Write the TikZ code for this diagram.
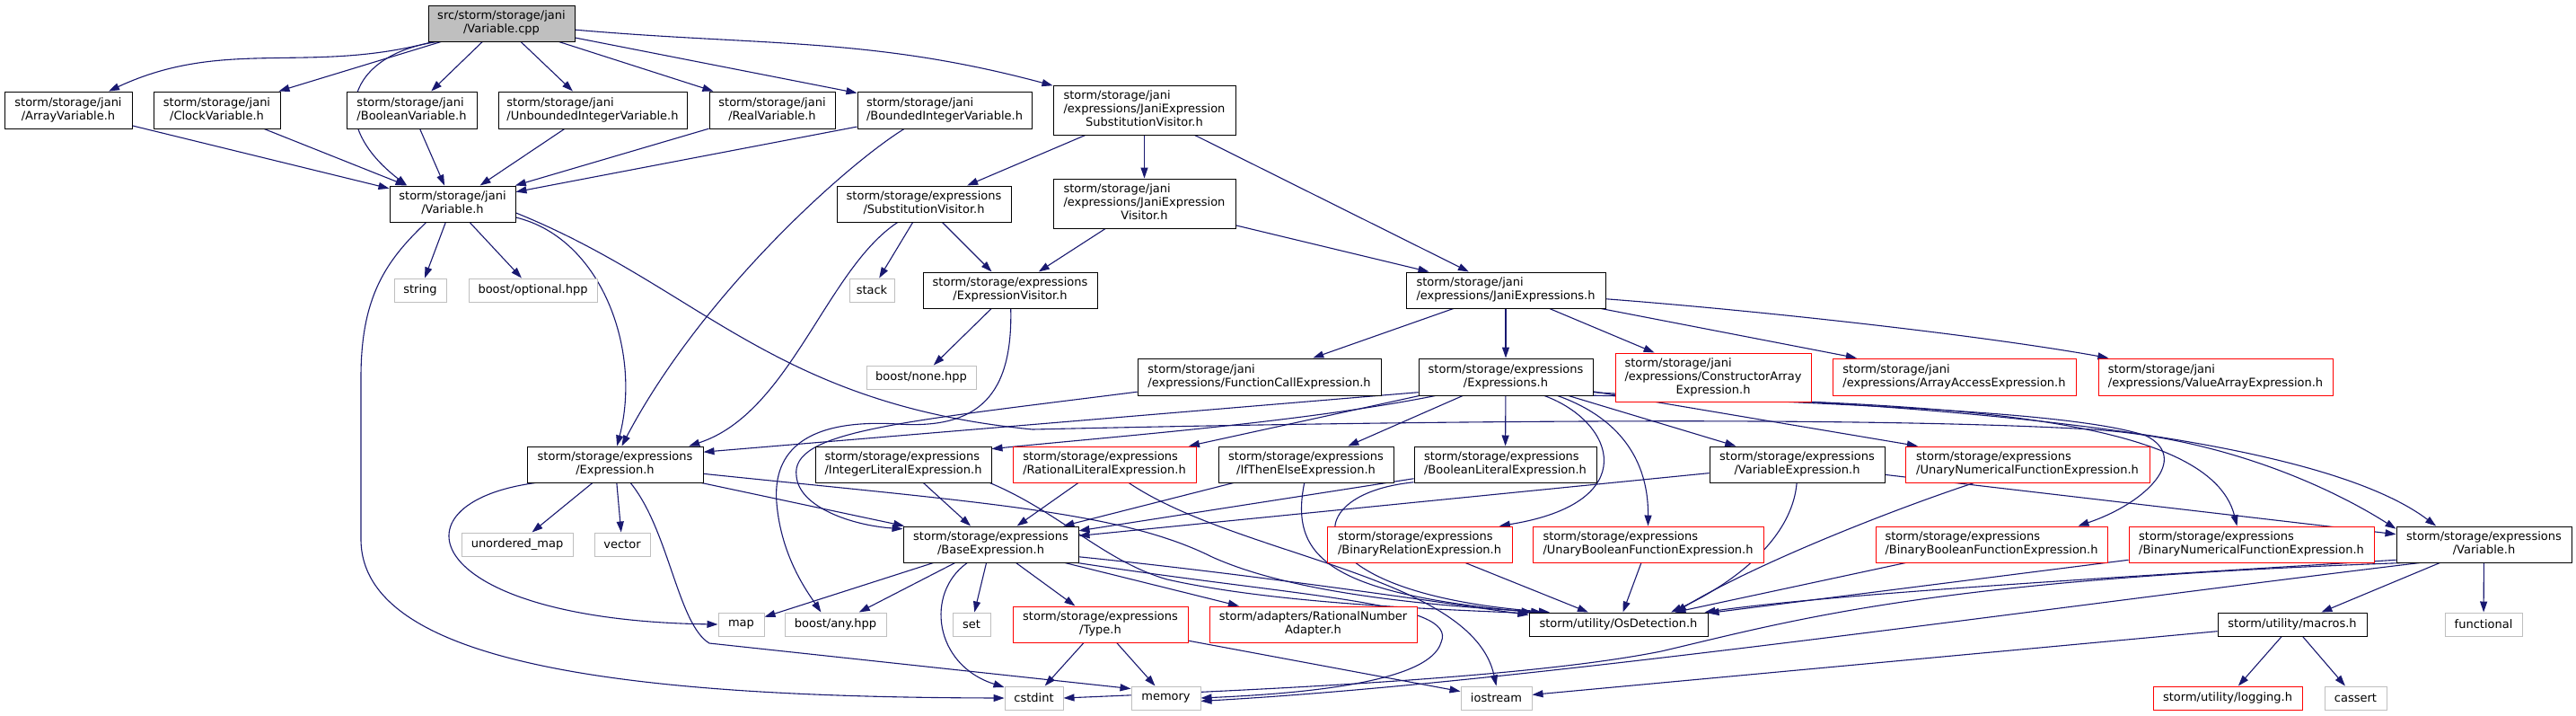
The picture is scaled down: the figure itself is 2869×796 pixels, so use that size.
\documentclass[tikz,border=0pt]{standalone}
\usepackage{fontspec}
\setmainfont{DejaVu Sans}
\usetikzlibrary{arrows.meta,backgrounds}
\definecolor{edgec}{HTML}{191970}
\definecolor{sysgray}{HTML}{BFBFBF}
\definecolor{rootfill}{HTML}{BFBFBF}
\newcommand{\ltwo}[2]{\begin{tabular}{@{}l@{}}#1\\\multicolumn{1}{@{}c@{}}{#2}\end{tabular}}
\newcommand{\lthree}[3]{\begin{tabular}{@{}l@{}}#1\\#2\\\multicolumn{1}{@{}c@{}}{#3}\end{tabular}}
\begin{document}
\begin{tikzpicture}[x=1pt,y=-1pt,
  every node/.style={font=\fontsize{13}{15}\selectfont},
  nbox/.style={draw=black,line width=1pt,fill=white,inner sep=0pt,rectangle},
  sysbox/.style={nbox,draw=sysgray},
  trunc/.style={nbox,draw=red},
  rootbox/.style={nbox,fill=rootfill},
  sz/.style 2 args={minimum width=#1pt,minimum height=#2pt},
  conn/.style={draw=edgec,line width=1.1pt,-{Triangle[length=12pt,width=8pt]}}]
\useasboundingbox (0,0) rectangle (2869,796);
% ---------- nodes ----------
\node[rootbox,sz={163}{40}] (root) at (558.5,26) {\ltwo{src/storm/storage/jani}{/Variable.cpp}};
\node[nbox,sz={142}{41}] (arr) at (76,122.5) {\ltwo{storm/storage/jani}{/ArrayVariable.h}};
\node[nbox,sz={141}{41}] (clk) at (241.5,122.5) {\ltwo{storm/storage/jani}{/ClockVariable.h}};
\node[nbox,sz={145}{41}] (boo) at (458.5,122.5) {\ltwo{storm/storage/jani}{/BooleanVariable.h}};
\node[nbox,sz={210}{41}] (unb) at (660,122.5) {\ltwo{storm/storage/jani}{/UnboundedIntegerVariable.h}};
\node[nbox,sz={140}{41}] (rea) at (860,122.5) {\ltwo{storm/storage/jani}{/RealVariable.h}};
\node[nbox,sz={194}{41}] (bnd) at (1052,122.5) {\ltwo{storm/storage/jani}{/BoundedIntegerVariable.h}};
\node[nbox,sz={203}{55}] (jesv) at (1274.5,122.5) {\lthree{storm/storage/jani}{/expressions/JaniExpression}{SubstitutionVisitor.h}};
\node[nbox,sz={140}{40}] (jvar) at (504,227) {\ltwo{storm/storage/jani}{/Variable.h}};
\node[nbox,sz={194}{40}] (subv) at (1029,227) {\ltwo{storm/storage/expressions}{/SubstitutionVisitor.h}};
\node[nbox,sz={203}{55}] (jev) at (1274.5,226.5) {\lthree{storm/storage/jani}{/expressions/JaniExpression}{Visitor.h}};
\node[sysbox,sz={58}{26}] (string) at (468,323) {string};
\node[sysbox,sz={143}{26}] (bopt) at (593.5,323) {boost/optional.hpp};
\node[sysbox,sz={50}{26}] (stack) at (971,323) {stack};
\node[nbox,sz={194}{40}] (exvis) at (1125,323) {\ltwo{storm/storage/expressions}{/ExpressionVisitor.h}};
\node[nbox,sz={222}{40}] (jexprs) at (1677,323) {\ltwo{storm/storage/jani}{/expressions/JaniExpressions.h}};
\node[sysbox,sz={122}{26}] (bnone) at (1026,420) {boost/none.hpp};
\node[nbox,sz={271}{41}] (fcall) at (1402.5,419.5) {\ltwo{storm/storage/jani}{/expressions/FunctionCallExpression.h}};
\node[nbox,sz={194}{41}] (exprs) at (1677,419.5) {\ltwo{storm/storage/expressions}{/Expressions.h}};
\node[trunc,sz={218}{54}] (cons) at (1908,420) {\lthree{storm/storage/jani}{/expressions/ConstructorArray}{Expression.h}};
\node[trunc,sz={271}{41}] (aacc) at (2176.5,419.5) {\ltwo{storm/storage/jani}{/expressions/ArrayAccessExpression.h}};
\node[trunc,sz={261}{41}] (varr) at (2467.5,419.5) {\ltwo{storm/storage/jani}{/expressions/ValueArrayExpression.h}};
\node[nbox,sz={196}{40}] (expr) at (685,517) {\ltwo{storm/storage/expressions}{/Expression.h}};
\node[nbox,sz={196}{40}] (intl) at (1006,517) {\ltwo{storm/storage/expressions}{/IntegerLiteralExpression.h}};
\node[trunc,sz={204}{40}] (ratl) at (1230,517) {\ltwo{storm/storage/expressions}{/RationalLiteralExpression.h}};
\node[nbox,sz={195}{40}] (ite) at (1454.5,517) {\ltwo{storm/storage/expressions}{/IfThenElseExpression.h}};
\node[nbox,sz={203}{40}] (booll) at (1676.5,517) {\ltwo{storm/storage/expressions}{/BooleanLiteralExpression.h}};
\node[nbox,sz={195}{40}] (varex) at (2001.5,517) {\ltwo{storm/storage/expressions}{/VariableExpression.h}};
\node[trunc,sz={272}{40}] (unum) at (2258,517) {\ltwo{storm/storage/expressions}{/UnaryNumericalFunctionExpression.h}};
\node[sysbox,sz={124}{26}] (umap) at (576,606) {unordered\_map};
\node[sysbox,sz={62}{26}] (vector) at (693,606) {vector};
\node[nbox,sz={195}{40}] (base) at (1103.5,606) {\ltwo{storm/storage/expressions}{/BaseExpression.h}};
\node[trunc,sz={206}{40}] (brel) at (1581,606) {\ltwo{storm/storage/expressions}{/BinaryRelationExpression.h}};
\node[trunc,sz={257}{40}] (ubool) at (1835.5,606) {\ltwo{storm/storage/expressions}{/UnaryBooleanFunctionExpression.h}};
\node[trunc,sz={258}{40}] (bbool) at (2218,606) {\ltwo{storm/storage/expressions}{/BinaryBooleanFunctionExpression.h}};
\node[trunc,sz={273}{40}] (bnum) at (2507.5,606) {\ltwo{storm/storage/expressions}{/BinaryNumericalFunctionExpression.h}};
\node[nbox,sz={195}{40}] (evar) at (2766.5,606) {\ltwo{storm/storage/expressions}{/Variable.h}};
\node[sysbox,sz={51}{26}] (map) at (825.5,695) {map};
\node[sysbox,sz={113}{26}] (bany) at (930.5,695) {boost/any.hpp};
\node[sysbox,sz={42}{26}] (set) at (1082,695) {set};
\node[trunc,sz={195}{40}] (type) at (1225.5,695) {\ltwo{storm/storage/expressions}{/Type.h}};
\node[trunc,sz={231}{40}] (rna) at (1462.5,695) {\ltwo{storm/adapters/RationalNumber}{Adapter.h}};
\node[nbox,sz={199}{26}] (osd) at (1802.5,695) {storm/utility/OsDetection.h};
\node[nbox,sz={166}{26}] (macros) at (2553,695) {storm/utility/macros.h};
\node[sysbox,sz={86}{26}] (func) at (2766,695) {functional};
\node[sysbox,sz={65}{26}] (cstdint) at (1151.5,777) {cstdint};
\node[sysbox,sz={77}{26}] (memory) at (1298.5,777) {memory};
\node[sysbox,sz={79}{26}] (iostream) at (1666.5,777) {iostream};
\node[trunc,sz={166}{26}] (logging) at (2481,777) {storm/utility/logging.h};
\node[sysbox,sz={69}{26}] (cassert) at (2623.5,777) {cassert};
% ---------- edges ----------
\begin{pgfonlayer}{background}
\fill[white] (0,0) rectangle (2869,796);
% root
\draw[conn] (root) to[out=195,in=25] (arr);
\draw[conn] (root) -- (clk);
\draw[conn] (root) -- (boo);
\draw[conn] (root) -- (unb);
\draw[conn] (root) -- (rea);
\draw[conn] (root) -- (bnd);
\draw[conn] (root) to[out=-5,in=165] (jesv);
\draw[conn] (root.196) .. controls (390,60) and (360,135) .. (jvar.158);
% variables to jani Variable.h
\draw[conn] (arr) -- (jvar);
\draw[conn] (clk) -- (jvar);
\draw[conn] (boo) -- (jvar);
\draw[conn] (unb) -- (jvar);
\draw[conn] (rea) -- (jvar);
\draw[conn] (bnd) -- (jvar);
\draw[conn] (bnd.205) .. controls (940,185) and (780,330) .. (expr.70);
% substitution visitor
\draw[conn] (jesv) -- (subv);
\draw[conn] (jesv) -- (jev);
\draw[conn] (jesv) -- (jexprs);
% jani Variable.h
\draw[conn] (jvar) -- (string);
\draw[conn] (jvar) -- (bopt);
\draw[conn] (jvar.-12) .. controls (670,265) and (715,390) .. (expr.84);
\draw[conn] (jvar.215) .. controls (430,290) and (402,330) .. (402,420) -- (402,600) .. controls (402,740) and (700,776) .. (cstdint.west);
\draw[conn] (jvar.-8) .. controls (780,320) and (860,450) .. (1150,478) .. controls (1500,470) and (2050,462) .. (2330,478) .. controls (2480,488) and (2600,545) .. (evar.170);
% SubstitutionVisitor
\draw[conn] (subv) -- (stack);
\draw[conn] (subv) -- (exvis);
\draw[conn] (subv.215) .. controls (920,300) and (880,460) .. (expr.14);
% JaniExpressionVisitor
\draw[conn] (jev) -- (exvis);
\draw[conn] (jev) -- (jexprs);
% ExpressionVisitor
\draw[conn] (exvis) -- (bnone);
\draw[conn] (exvis.-88) .. controls (1128,440) and (1090,478) .. (1000,472) .. controls (900,466) and (860,500) .. (865,560) .. controls (870,620) and (900,660) .. (bany.140);
% JaniExpressions.h
\draw[conn] (jexprs) -- (fcall);
\draw[conn] (jexprs) -- (exprs);
\draw[conn] (jexprs) -- (cons);
\draw[conn] (jexprs) -- (aacc);
\draw[conn] (jexprs.-5) .. controls (1950,345) and (2200,372) .. (varr.170);
% FunctionCallExpression
\draw[conn] (fcall.187) .. controls (1000,470) and (880,480) .. (887,530) .. controls (890,565) and (950,585) .. (base.170);
% Expressions.h
\draw[conn] (exprs.195) .. controls (1450,470) and (1250,485) .. (intl.10);
\draw[conn] (exprs) -- (ratl);
\draw[conn] (exprs.190) -- (expr.8);
\draw[conn] (exprs) -- (ite);
\draw[conn] (exprs) -- (booll);
\draw[conn] (exprs.-26) .. controls (1800,470) and (1830,560) .. (brel.13);
\draw[conn] (exprs.-20) .. controls (1790,460) and (1836,500) .. (ubool.north);
\draw[conn] (exprs) -- (varex);
\draw[conn] (exprs) -- (unum);
\draw[conn] (exprs.-10) .. controls (2000,450) and (2300,455) .. (2390,485) .. controls (2440,510) and (2390,560) .. (bbool.12);
\draw[conn] (exprs.-12) .. controls (2150,448) and (2460,460) .. (bnum.128);
% ConstructorArrayExpression
\draw[conn] (cons.south east) .. controls (2300,465) and (2600,500) .. (evar.159);
% VariableExpression
\draw[conn] (varex) -- (base);
\draw[conn] (varex.-91) .. controls (1996,600) and (1930,650) .. (osd.13);
\draw[conn] (varex) -- (evar);
% UnaryNumericalFunctionExpression
\draw[conn] (unum.199) .. controls (2100,570) and (1950,630) .. (osd.12);
% binary / unary to OsDetection
\draw[conn] (brel) -- (osd);
\draw[conn] (ubool) -- (osd);
\draw[conn] (bbool) -- (osd);
\draw[conn] (bnum) -- (osd);
% literals
\draw[conn] (intl) -- (base);
\draw[conn] (intl.-12) .. controls (1180,570) and (1230,625) .. (1300,645) .. controls (1420,672) and (1600,678) .. (osd.173);
\draw[conn] (ratl) -- (base);
\draw[conn] (ratl.-37) .. controls (1380,620) and (1640,640) .. (iostream.north);
\draw[conn] (ite) -- (base);
\draw[conn] (ite.-95) .. controls (1436,620) and (1480,660) .. (osd.172);
\draw[conn] (booll) -- (base);
\draw[conn] (booll.191) .. controls (1440,550) and (1440,660) .. (osd.170);
% Expression.h
\draw[conn] (expr.193) .. controls (430,560) and (470,690) .. (map.west);
\draw[conn] (expr) -- (umap);
\draw[conn] (expr) -- (vector);
\draw[conn] (expr.-50) .. controls (745,590) and (755,695) .. (790,716) -- (memory.165);
\draw[conn] (expr) -- (base);
\draw[conn] (expr.-6) .. controls (1100,560) and (1250,570) .. (1350,620) .. controls (1450,665) and (1620,675) .. (osd.171);
% BaseExpression.h
\draw[conn] (base) -- (map);
\draw[conn] (base) -- (bany);
\draw[conn] (base) -- (set);
\draw[conn] (base.218) .. controls (1030,660) and (1040,740) .. (cstdint.160);
\draw[conn] (base) -- (type);
\draw[conn] (base) -- (rna);
\draw[conn] (base.-8) .. controls (1400,640) and (1600,670) .. (osd.174);
\draw[conn] (base.-12) .. controls (1450,665) and (1625,670) .. (1605,715) .. controls (1592,760) and (1450,772) .. (memory.east);
% Type.h
\draw[conn] (type) -- (cstdint);
\draw[conn] (type) -- (memory);
\draw[conn] (type) -- (iostream);
% expressions/Variable.h
\draw[conn] (evar.190) .. controls (2400,640) and (2050,660) .. (osd.8);
\draw[conn] (evar.193) .. controls (2150,645) and (2000,690) .. (1850,725) .. controls (1700,755) and (1400,768) .. (cstdint.east);
\draw[conn] (evar.196) .. controls (2250,680) and (1700,760) .. (memory.-5);
\draw[conn] (evar) -- (macros);
\draw[conn] (evar) -- (func);
% macros.h
\draw[conn] (macros) -- (logging);
\draw[conn] (macros) -- (cassert);
\draw[conn] (macros) -- (iostream);
\end{pgfonlayer}
\end{tikzpicture}
\end{document}
